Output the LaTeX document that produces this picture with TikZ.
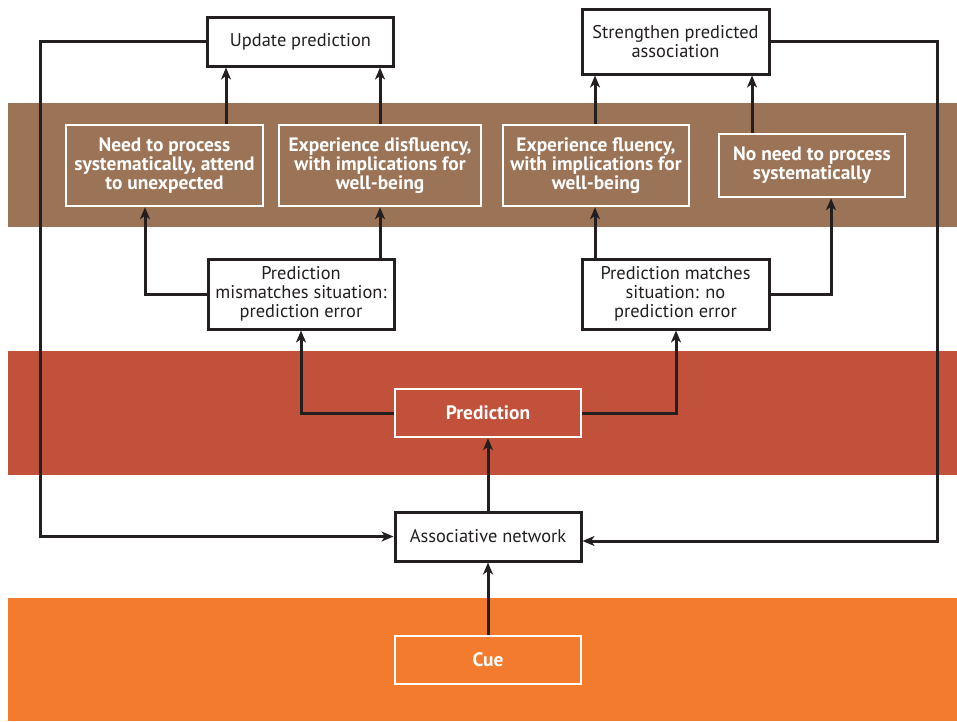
\documentclass[tikz,border=0pt]{standalone}
\usepackage{fontspec}
\setmainfont{PT Sans}
\usetikzlibrary{arrows.meta,calc}
\definecolor{bandbrown}{RGB}{155,116,87}
\definecolor{bandred}{RGB}{193,81,58}
\definecolor{bandorange}{RGB}{242,123,45}
\definecolor{ink}{RGB}{35,31,32}
\tikzset{
  wbox/.style={draw=ink, fill=white, line width=3pt, text=ink, align=center, inner sep=0pt,
    font=\fontsize{18.4}{19}\selectfont},
  cbox/.style={draw=white, line width=2.4pt, text=white, align=center, inner sep=0pt,
    font=\fontsize{19.4}{19}\selectfont\bfseries},
  arr/.style={draw=ink, line width=3pt, -{Stealth[length=12pt,width=10pt,inset=3.5pt]}},
}
\begin{document}
\begin{tikzpicture}[x=1pt,y=-1pt]
\useasboundingbox (0,0) rectangle (957,721);
% bands
\fill[bandbrown] (8,103) rectangle (957,227);
\fill[bandred] (8,351) rectangle (957,475);
\fill[bandorange] (8,598) rectangle (957,721);
% nodes
\node[wbox, minimum width=186, minimum height=49] (upd) at (300.5,41.5) {Update prediction};
\node[wbox, minimum width=187, minimum height=65] (str) at (675.5,41.5) {Strengthen predicted\\association};
\node[cbox, fill=bandbrown, minimum width=197, minimum height=81] (need) at (164.5,165.5) {Need to process\\systematically, attend\\to unexpected};
\node[cbox, fill=bandbrown, minimum width=202, minimum height=81] (dis) at (380,165.5) {Experience disfluency,\\with implications for\\well-being};
\node[cbox, fill=bandbrown, minimum width=186, minimum height=81] (flu) at (596,165.5) {Experience fluency,\\with implications for\\well-being};
\node[cbox, fill=bandbrown, minimum width=186, minimum height=63] (noneed) at (812,165.5) {No need to process\\systematically};
\node[wbox, minimum width=186, minimum height=70] (mis) at (301,294) {Prediction\\mismatches situation:\\prediction error};
\node[wbox, minimum width=187, minimum height=70] (mat) at (675.5,294) {Prediction matches\\situation: no\\prediction error};
\node[cbox, fill=bandred, minimum width=186, minimum height=48] (pred) at (488,413) {Prediction};
\node[wbox, minimum width=186, minimum height=49] (assoc) at (488,536.5) {Associative network};
\node[cbox, fill=bandorange, minimum width=186, minimum height=48] (cue) at (488,660) {Cue};
% helper coordinates
\coordinate (xa) at (226,0);
\coordinate (xb) at (380,0);
\coordinate (xc) at (595,0);
\coordinate (xd) at (752,0);
\coordinate (xe) at (145,0);
\coordinate (xf) at (831,0);
\coordinate (xg) at (301,0);
\coordinate (xh) at (676,0);
\coordinate (xl) at (40,0);
\coordinate (xr) at (937,0);
\coordinate (yr) at (0,541);
% connectors
\draw[arr] (need.north -| xa) -- (upd.south -| xa);
\draw[arr] (dis.north -| xb) -- (upd.south -| xb);
\draw[arr] (flu.north -| xc) -- (str.south -| xc);
\draw[arr] (noneed.north -| xd) -- (str.south -| xd);
\draw[arr] (mis.west) -| (need.south -| xe);
\draw[arr] (mis.north -| xb) -- (dis.south -| xb);
\draw[arr] (mat.north -| xc) -- (flu.south -| xc);
\draw[arr] (mat.east) -| (noneed.south -| xf);
\draw[arr] (pred.west) -| (mis.south -| xg);
\draw[arr] (pred.east) -| (mat.south -| xh);
\draw[arr] (assoc.north) -- (pred.south);
\draw[arr] (cue.north) -- (assoc.south);
\draw[arr] (upd.west) -| (xl |- assoc.west) -- (assoc.west);
\draw[arr] (str.east) -| (xr |- yr) -- (assoc.east |- yr);
\end{tikzpicture}
\end{document}
